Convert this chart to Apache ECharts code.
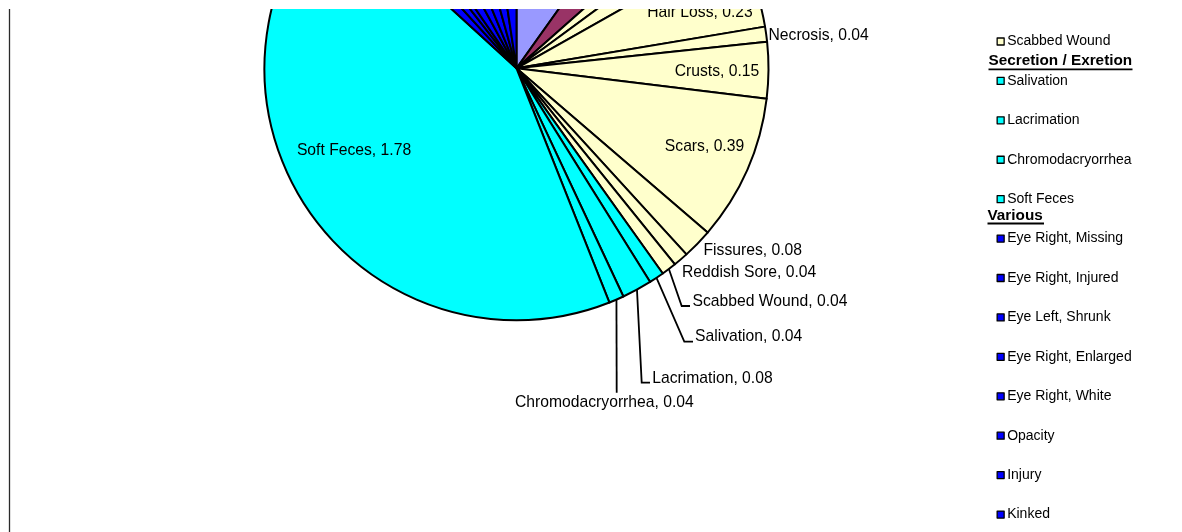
<!DOCTYPE html>
<html>
<head>
<meta charset="utf-8">
<script src="https://cdn.jsdelivr.net/npm/echarts@6/dist/echarts.min.js"></script>
<style>
html,body{margin:0;padding:0;background:#fff;width:1182px;height:532px;overflow:hidden}
#chart{position:absolute;left:0;top:9px;width:1182px;height:523px}
</style>
</head>
<body>
<div id="chart"></div>
<script>
// ---------------- DATA ----------------
// Slices in clockwise order from 12 o'clock. The first four slices lie in the cropped-off top part
// of the picture, so their names cannot be read.
const categories = [
  'Finding (cropped) 1', 'Finding (cropped) 2', 'Skin finding (cropped) 1', 'Skin finding (cropped) 2',
  'Hair Loss', 'Necrosis', 'Crusts', 'Scars', 'Fissures', 'Reddish Sore', 'Scabbed Wound',
  'Salivation', 'Lacrimation', 'Chromodacryorrhea', 'Soft Feces',
  'Eye Right, Missing', 'Eye Right, Injured', 'Eye Left, Shrunk', 'Eye Right, Enlarged',
  'Eye Right, White', 'Opacity', 'Injury', 'Kinked'
];
const values = [
  0.41, 0.15, 0.06, 0.08,
  0.23, 0.04, 0.15, 0.39, 0.08, 0.04, 0.04,
  0.04, 0.08, 0.04, 1.78,
  0.06, 0.05, 0.04, 0.07, 0.07, 0.08, 0.08, 0.10
];
const groups = [
  'groupA', 'groupB', 'skin', 'skin',
  'skin', 'skin', 'skin', 'skin', 'skin', 'skin', 'skin',
  'secretion', 'secretion', 'secretion', 'secretion',
  'various', 'various', 'various', 'various', 'various', 'various', 'various', 'various'
];
const labelledSlices = [
  'Hair Loss', 'Necrosis', 'Crusts', 'Scars', 'Fissures', 'Reddish Sore', 'Scabbed Wound',
  'Salivation', 'Lacrimation', 'Chromodacryorrhea', 'Soft Feces'
];
const legendItems = [
  'Scabbed Wound', 'Salivation', 'Lacrimation', 'Chromodacryorrhea', 'Soft Feces',
  'Eye Right, Missing', 'Eye Right, Injured', 'Eye Left, Shrunk', 'Eye Right, Enlarged',
  'Eye Right, White', 'Opacity', 'Injury', 'Kinked'
];
const legendHeadings = ['Secretion / Exretion', 'Various'];

// ---------------- STYLE / LAYOUT ----------------
const OFFSET_Y = 9; // chart div starts 9px below the page top (cropped picture)
const FONT = '"Liberation Sans", Arial, sans-serif';
const GROUP_COLORS = {
  groupA: '#9999FF', groupB: '#993366', skin: '#FFFFCC', secretion: '#00FFFF', various: '#0000FF'
};
const withLine = ['Scabbed Wound', 'Salivation', 'Lacrimation', 'Chromodacryorrhea'];
// label anchor positions in page pixels
const LABEL_LAYOUT = {
  'Hair Loss':        {x: 700,   y: 13,    align: 'center'},
  'Necrosis':         {x: 768.5, y: 35.5,  align: 'left'},
  'Crusts':           {x: 717,   y: 71.5,  align: 'center'},
  'Scars':            {x: 704.5, y: 146.5, align: 'center'},
  'Soft Feces':       {x: 354,   y: 150.7, align: 'center'},
  'Fissures':         {x: 703.5, y: 250.5, align: 'left'},
  'Reddish Sore':     {x: 682,   y: 273,   align: 'left'},
  'Scabbed Wound':    {x: 692.5, y: 301.5, align: 'left', line: [[681.7, 306], [690, 306]]},
  'Salivation':       {x: 695,   y: 336.5, align: 'left', line: [[684.3, 341.7], [693, 341.7]]},
  'Lacrimation':      {x: 652.3, y: 378.8, align: 'left', line: [[641.7, 382.7], [650, 382.7]]},
  'Chromodacryorrhea':{x: 515,   y: 402.2, align: 'left', line: [[616.7, 392.7], [616.7, 392.7]]}
};
const HEADING_LAYOUT = {
  'Secretion / Exretion': {x: 988.5, y: 61.2, ux1: 988.5, ux2: 1132.5, uy: 69.3},
  'Various':              {x: 987.5, y: 215.8, ux1: 987.5, ux2: 1044,   uy: 223.5}
};

const pieData = categories.map(function (name, i) {
  const shown = labelledSlices.indexOf(name) >= 0;
  return {
    name: name,
    value: values[i],
    itemStyle: {color: GROUP_COLORS[groups[i]]},
    label: {show: shown},
    labelLine: {show: withLine.indexOf(name) >= 0}
  };
});

const graphics = [
  {type: 'line', shape: {x1: 9.5, y1: 0, x2: 9.5, y2: 523}, style: {stroke: '#2a2a2a', lineWidth: 1.3}, z: 10}
];
legendHeadings.forEach(function (h) {
  const L = HEADING_LAYOUT[h];
  graphics.push({
    type: 'text', x: L.x, y: L.y - OFFSET_Y, z: 10,
    style: {text: h, font: 'bold 15.3px ' + FONT, fill: '#000', verticalAlign: 'middle', align: 'left'}
  });
  graphics.push({
    type: 'line', z: 10,
    shape: {x1: L.ux1, y1: L.uy - OFFSET_Y, x2: L.ux2, y2: L.uy - OFFSET_Y},
    style: {stroke: '#000', lineWidth: 1.8}
  });
});

const chart = echarts.init(document.getElementById('chart'), null, {renderer: 'canvas'});
chart.setOption({
  animation: false,
  backgroundColor: '#ffffff',
  legend: {
    orient: 'vertical',
    left: 996.5, top: 25.5, padding: 0,
    itemGap: 25.42, itemWidth: 7, itemHeight: 7,
    icon: 'rect', selectedMode: false,
    data: legendItems,
    itemStyle: {borderColor: '#000', borderWidth: 1.3},
    textStyle: {fontFamily: FONT, fontSize: 14, color: '#000', lineHeight: 14, padding: [0, 0, 0, -2]}
  },
  graphic: graphics,
  series: [{
    type: 'pie',
    center: [516.5, 68.3 - OFFSET_Y],
    radius: 252,
    startAngle: 90,
    clockwise: true,
    avoidLabelOverlap: false,
    silent: true,
    emphasis: {disabled: true},
    itemStyle: {borderColor: '#000', borderWidth: 2},
    label: {
      show: true,
      fontFamily: FONT, fontSize: 15.7, color: '#000',
      formatter: function (p) { return p.name + ', ' + p.value.toFixed(2); }
    },
    labelLine: {show: false, lineStyle: {color: '#000', width: 1.8}},
    labelLayout: function (params) {
      const name = categories[params.dataIndex];
      const L = LABEL_LAYOUT[name];
      if (!L) return {};
      const out = {x: L.x, y: L.y - OFFSET_Y, align: L.align, verticalAlign: 'middle'};
      if (L.line && params.labelLinePoints) {
        const start = params.labelLinePoints[0];
        out.labelLinePoints = [start].concat(L.line.map(function (p) { return [p[0], p[1] - OFFSET_Y]; }));
      }
      return out;
    },
    data: pieData
  }]
});
</script>
</body>
</html>
